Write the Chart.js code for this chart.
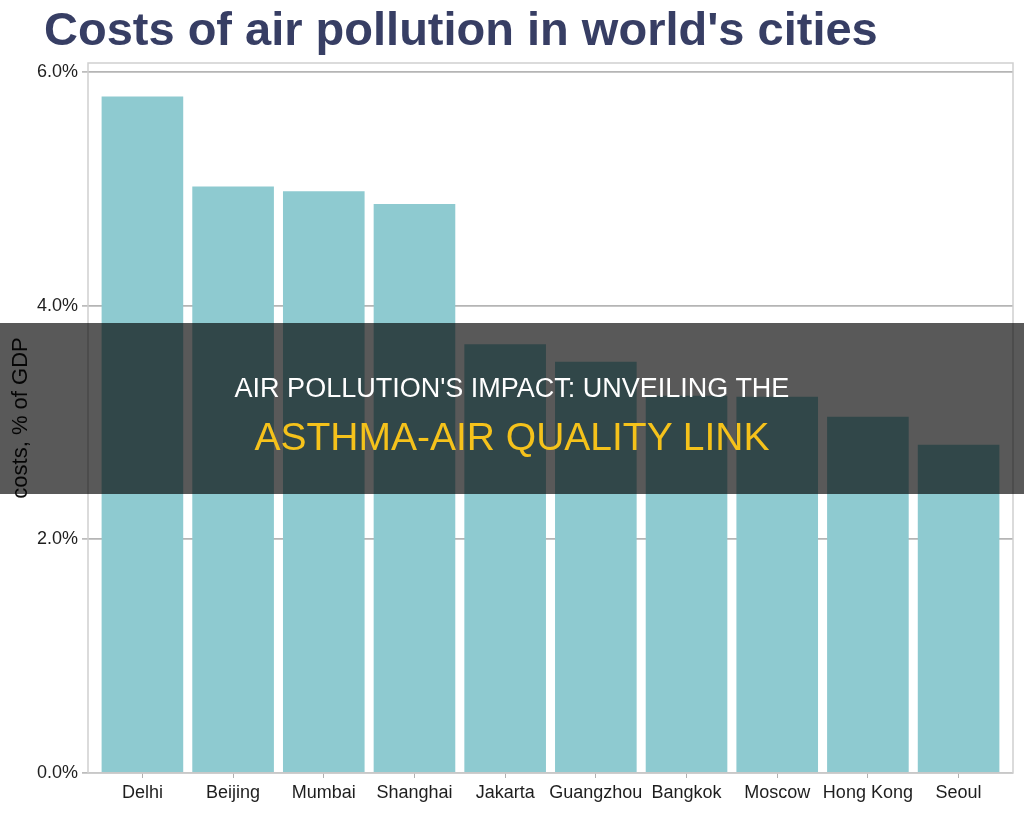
<!DOCTYPE html>
<html>
<head>
<meta charset="utf-8">
<script src="https://cdn.jsdelivr.net/npm/chart.js@4"></script>
<style>
    html, body { margin: 0; padding: 0; background: #fff; }
    #wrap { position: relative; width: 1024px; height: 838px; }
    #banner {
        position: absolute; left: 0; top: 323px; width: 1024px; height: 171px;
        background: rgba(0, 0, 0, 0.65);
        font-family: "Liberation Sans", Arial, sans-serif; text-align: center;
    }
    #banner .l1 { position: absolute; left: 0; right: 0; color: #fff; font-size: 27px; line-height: 36px; }
    #banner .l2 { position: absolute; left: 0; right: 0; color: #f5c21b; font-size: 39px; line-height: 50px; }
</style>
</head>
<body>
<div id="wrap">
    <canvas id="costChart" width="1024" height="838"></canvas>
    <div id="banner">
        <div class="l1" style="top:47px">AIR POLLUTION'S IMPACT: UNVEILING THE</div>
        <div class="l2" style="top:89px">ASTHMA-AIR QUALITY LINK</div>
    </div>
</div>
<script>
const cities = ['Delhi', 'Beijing', 'Mumbai', 'Shanghai', 'Jakarta', 'Guangzhou', 'Bangkok', 'Moscow', 'Hong Kong', 'Seoul'];
const costs = [5.79, 5.02, 4.98, 4.87, 3.67, 3.52, 3.23, 3.22, 3.05, 2.81];
const yTicks = [0, 2, 4, 6];

const chartTitle = "Costs of air pollution in world's cities";

// title + panel frame
const decor = {
    id: 'decor',
    beforeDraw(chart) {
        const ctx = chart.ctx;
        ctx.save();
        ctx.fillStyle = '#373e64';
        ctx.font = 'bold 47px "Liberation Sans", Arial, sans-serif';
        ctx.textBaseline = 'alphabetic';
        ctx.fillText(chartTitle, 44, 45);
        ctx.restore();
    },
    afterDraw(chart) {
        const a = chart.chartArea;
        const ctx = chart.ctx;
        ctx.save();
        ctx.strokeStyle = '#cfcfcf';
        ctx.lineWidth = 1.5;
        ctx.strokeRect(a.left, a.top, a.right - a.left, a.bottom - a.top);
        ctx.restore();
    }
};

new Chart(document.getElementById('costChart'), {
    type: 'bar',
    data: {
        datasets: [{
            data: cities.map((c, i) => ({ x: i, y: costs[i] })),
            backgroundColor: '#8ecad0',
            barPercentage: 0.9,
            categoryPercentage: 1
        }]
    },
    options: {
        responsive: false,
        animation: false,
        layout: { padding: { top: 63, right: 11, left: 0, bottom: 0 } },
        plugins: { legend: { display: false }, tooltip: { enabled: false } },
        scales: {
            x: {
                type: 'linear',
                min: -0.6,
                max: 9.6,
                offset: false,
                afterFit(s) { s.height = 65; },
                afterBuildTicks(s) { s.ticks = cities.map((c, i) => ({ value: i })); },
                grid: { display: true, drawOnChartArea: false, drawTicks: true, tickLength: 5, tickColor: '#b0b0b0', offset: false },
                border: { display: false },
                ticks: {
                    autoSkip: false,
                    maxRotation: 0,
                    padding: 4,
                    color: '#1e1e1e',
                    font: { size: 18, family: '"Liberation Sans", Arial, sans-serif' },
                    callback: v => cities[v]
                }
            },
            y: {
                min: 0,
                max: 6.077,
                afterFit(s) { s.width = 88; },
                afterBuildTicks(s) { s.ticks = yTicks.map(v => ({ value: v })); },
                grid: { color: '#b5b5b5', lineWidth: 1.8, tickLength: 6, tickColor: '#b0b0b0', tickWidth: 1.5 },
                border: { display: false },
                ticks: {
                    padding: 4,
                    color: '#1e1e1e',
                    font: { size: 18, family: '"Liberation Sans", Arial, sans-serif' },
                    callback: v => v.toFixed(1) + '%'
                },
                title: {
                    display: true,
                    text: 'costs, % of GDP',
                    color: '#111',
                    padding: { top: 8, bottom: 0 },
                    font: { size: 22, family: '"Liberation Sans", Arial, sans-serif' }
                }
            }
        }
    },
    plugins: [decor]
});
</script>
</body>
</html>
